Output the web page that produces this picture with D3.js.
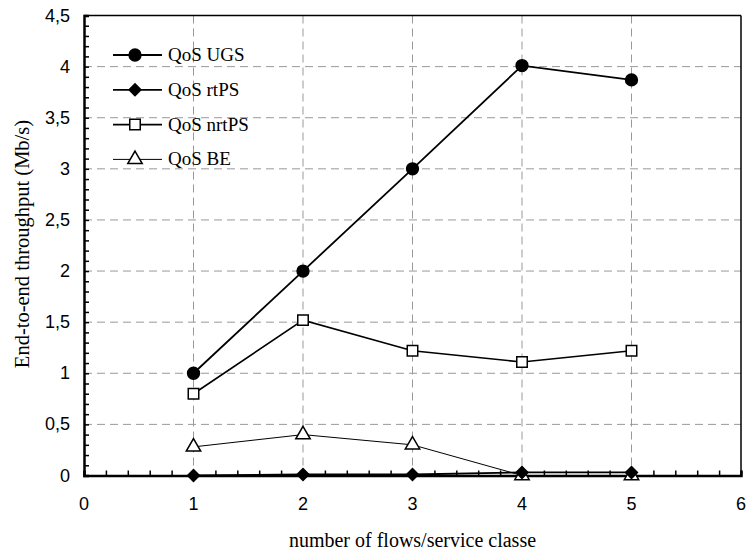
<!DOCTYPE html>
<html><head><meta charset="utf-8">
<script src="https://cdn.jsdelivr.net/npm/d3@7"></script>
<style>body{margin:0;background:#fff}</style>
</head><body>
<svg id="c" width="749" height="556"></svg>
<script>
const xValues = [1, 2, 3, 4, 5];
const ugs = [1.0, 2.0, 3.0, 4.01, 3.87];
const rtps = [0.0, 0.01, 0.01, 0.03, 0.03];
const nrtps = [0.8, 1.52, 1.22, 1.11, 1.22];
const be = [0.28, 0.4, 0.3, 0.0, 0.0];
const seriesNames = ["QoS UGS", "QoS rtPS", "QoS nrtPS", "QoS BE"];
const xTicks = [0, 1, 2, 3, 4, 5, 6];
const yTicks = [0, 0.5, 1, 1.5, 2, 2.5, 3, 3.5, 4, 4.5];
const yTickLabels = ["0", "0,5", "1", "1,5", "2", "2,5", "3", "3,5", "4", "4,5"];

const svg = d3.select("#c");
const L = 84, R = 741, T = 15.5, B = 475.5;
const x = d3.scaleLinear().domain([0, 6]).range([L, R]);
const y = d3.scaleLinear().domain([0, 4.5]).range([B, T]);
const sans = "'Liberation Sans', Arial, sans-serif";
const serif = "'Liberation Serif', 'Times New Roman', serif";

// grid
const g = svg.append("g");
g.selectAll(".hg").data(yTicks.slice(1, -1)).enter().append("line")
  .attr("x1", L).attr("x2", R).attr("y1", d => y(d)).attr("y2", d => y(d))
  .attr("stroke", "#999").attr("stroke-width", 1).attr("stroke-dasharray", "8,5");
g.selectAll(".vg").data(xTicks.slice(1, -1)).enter().append("line")
  .attr("x1", d => x(d)).attr("x2", d => x(d)).attr("y1", T).attr("y2", B)
  .attr("stroke", "#999").attr("stroke-width", 1).attr("stroke-dasharray", "8,5");

// frame
svg.append("line").attr("x1", L).attr("x2", R).attr("y1", T).attr("y2", T).attr("stroke", "#000").attr("stroke-width", 1.5);
svg.append("line").attr("x1", R).attr("x2", R).attr("y1", T).attr("y2", B).attr("stroke", "#000").attr("stroke-width", 1.5);

// axes
const yAxis = d3.axisLeft(y).tickValues(d3.range(0, 46).map(i => i / 10)).tickSize(-5).tickFormat("");
const ya = svg.append("g").attr("transform", `translate(${L},0)`).call(yAxis);
ya.select(".domain").attr("stroke-width", 2.5);
ya.selectAll(".tick line").attr("stroke-width", 1.5);
const xAxis = d3.axisBottom(x).tickValues(d3.range(0, 31).map(i => i / 5)).tickSize(-5).tickFormat("");
const xa = svg.append("g").attr("transform", `translate(0,${B})`).call(xAxis);
xa.select(".domain").attr("stroke-width", 2.5);
xa.selectAll(".tick line").attr("stroke-width", 1.5);

// tick labels
svg.selectAll(".yl").data(yTicks).enter().append("text")
  .attr("x", 70).attr("y", d => y(d) + 6).attr("text-anchor", "end")
  .attr("font-family", sans).attr("font-size", 18)
  .text((d, i) => yTickLabels[i]);
svg.selectAll(".xl").data(xTicks).enter().append("text")
  .attr("x", d => x(d)).attr("y", 510).attr("text-anchor", "middle")
  .attr("font-family", sans).attr("font-size", 18)
  .text(d => d);

// titles
svg.append("text").attr("x", 412.5).attr("y", 547).attr("text-anchor", "middle")
  .attr("font-family", serif).attr("font-size", 20)
  .text("number of flows/service classe");
svg.append("text").attr("transform", `translate(28.5,244) rotate(-90)`).attr("text-anchor", "middle")
  .attr("font-family", serif).attr("font-size", 20.5)
  .text("End-to-end throughput (Mb/s)");

const series = [
  { name: seriesNames[0], vals: ugs, sym: d3.symbolCircle, size: 110, rot: 0, fill: "#000", lw: 1.8 },
  { name: seriesNames[1], vals: rtps, sym: d3.symbolSquare, size: 70, rot: 45, fill: "#000", lw: 1.8 },
  { name: seriesNames[2], vals: nrtps, sym: d3.symbolSquare, size: 110, rot: 0, fill: "#fff", lw: 1.6 },
  { name: seriesNames[3], vals: be, sym: d3.symbolTriangle, size: 90, rot: 0, fill: "#fff", lw: 1 }
];
const line = d3.line().x((d, i) => x(xValues[i])).y(d => y(d));

series.forEach(s => {
  svg.append("path").attr("d", line(s.vals)).attr("fill", "none").attr("stroke", "#000").attr("stroke-width", s.lw);
});
series.slice().reverse().forEach(s => {
  svg.selectAll(null).data(s.vals).enter().append("path")
    .attr("d", d3.symbol().type(s.sym).size(s.size))
    .attr("transform", (d, i) => `translate(${x(xValues[i])},${y(d)}) rotate(${s.rot})`)
    .attr("fill", s.fill).attr("stroke", "#000").attr("stroke-width", 1.5);
});

// legend
const lg = svg.append("g");
series.forEach((s, i) => {
  const yy = 55 + i * 34.8;
  lg.append("line").attr("x1", 113).attr("x2", 162).attr("y1", yy).attr("y2", yy)
    .attr("stroke", "#000").attr("stroke-width", s.lw);
  lg.append("path").attr("d", d3.symbol().type(s.sym).size(s.size))
    .attr("transform", `translate(135,${yy}) rotate(${s.rot})`).attr("fill", s.fill).attr("stroke", "#000").attr("stroke-width", 1.5);
  lg.append("text").attr("x", 168).attr("y", yy + 6)
    .attr("font-family", serif).attr("font-size", 19)
    .text(s.name);
});
</script>
</body></html>
